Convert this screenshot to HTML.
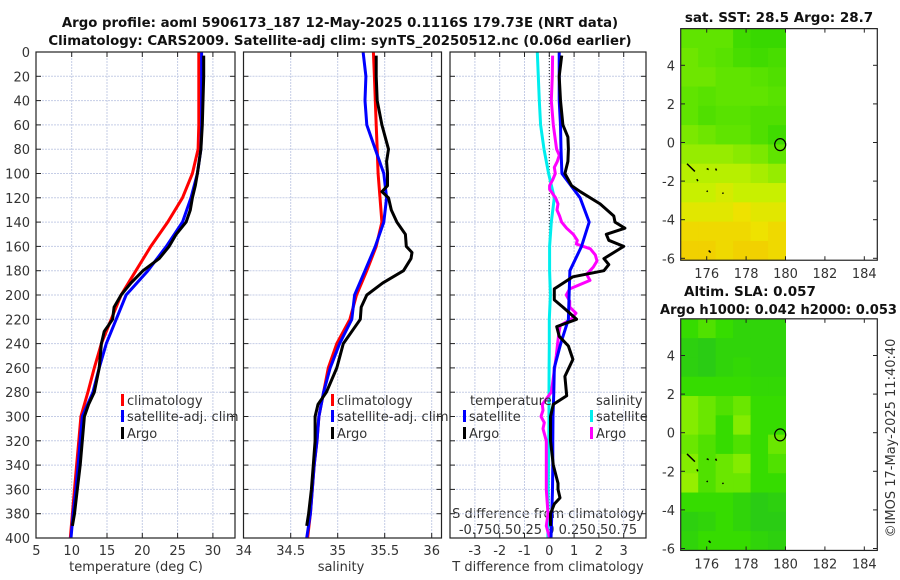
<!DOCTYPE html>
<html><head><meta charset="utf-8"><style>
html,body{margin:0;padding:0;background:#fff;}
svg{display:block;font-family:"DejaVu Sans","Liberation Sans",sans-serif;}
.t{font-size:13px;fill:#333;}
.b{font-size:13.5px;font-weight:bold;fill:#111;}
</style></head><body>
<svg id="c" width="900" height="580" viewBox="0 0 900 580" xmlns="http://www.w3.org/2000/svg">
<text class="b" x="340" y="27" text-anchor="middle" style="font-size:13.3px">Argo profile: aoml 5906173_187 12-May-2025 0.1116S 179.73E (NRT data)</text>
<text class="b" x="340" y="45" text-anchor="middle" style="font-size:13.3px">Climatology: CARS2009. Satellite-adj clim: synTS_20250512.nc (0.06d earlier)</text>
<text class="t" x="136" y="571" text-anchor="middle">temperature (deg C)</text>
<text class="t" x="341" y="571" text-anchor="middle">salinity</text>
<text class="t" x="548" y="571" text-anchor="middle">T difference from climatology</text>
<text class="t" x="548" y="518" text-anchor="middle">S difference from climatology</text>
<text class="t" x="548" y="534" text-anchor="middle">-0.750.50.25 0 0.250.50.75</text>
<text class="b" x="779" y="22" text-anchor="middle">sat. SST: 28.5 Argo: 28.7</text>
<text class="b" x="684" y="296">Altim. SLA: 0.057</text>
<text class="b" x="660" y="314" textLength="237" lengthAdjust="spacingAndGlyphs">Argo h1000: 0.042 h2000: 0.053</text>
<text class="t" x="0" y="0" transform="translate(895,438) rotate(-90)" text-anchor="middle">©IMOS 17-May-2025 11:40:40</text>
</svg>
<script>
// ---- data ----
const depT = [0,20,40,60,80,100,120,140,160,180,200,220,240,260,280,300,320,340,360,380,400];
const climT = [28.0,28.0,28.0,28.0,27.9,27.1,25.7,23.6,21.2,19.1,17.0,15.6,14.2,13.2,12.3,11.3,11.0,10.7,10.4,10.1,9.8];
const satT = [28.4,28.4,28.4,28.4,28.3,27.8,26.9,25.7,23.4,20.8,17.7,16.3,14.9,13.9,13.0,11.5,11.2,10.9,10.6,10.2,9.9];
const depA = [3,20,40,60,80,100,110,120,130,140,150,160,170,180,190,200,210,220,230,240,260,280,290,300,320,340,360,380,390];
const argoT = [28.7,28.7,28.6,28.5,28.3,27.8,27.5,27.1,26.8,26.2,24.8,23.8,22.4,20.1,18.4,17.0,16.0,15.8,14.6,14.2,13.9,13.2,12.4,11.8,11.5,11.2,10.8,10.4,10.1];
const climS = [35.38,35.39,35.40,35.41,35.42,35.43,35.45,35.47,35.41,35.31,35.20,35.13,34.99,34.90,34.85,34.80,34.78,34.75,34.73,34.71,34.68];
const satS = [35.27,35.30,35.29,35.31,35.40,35.49,35.52,35.49,35.40,35.29,35.18,35.15,35.02,34.92,34.85,34.80,34.78,34.75,34.73,34.71,34.67];
const depAS = [3,20,40,60,80,90,100,110,115,120,130,140,150,160,165,170,180,190,200,210,220,240,260,280,290,300,320,340,360,380,390];
const argoS = [35.41,35.41,35.42,35.47,35.54,35.52,35.53,35.53,35.47,35.54,35.57,35.63,35.72,35.73,35.79,35.78,35.70,35.48,35.31,35.25,35.24,35.06,34.99,34.88,34.79,34.76,34.76,34.74,34.72,34.69,34.67];
const depDT = [3,20,40,60,70,80,90,100,110,115,125,135,140,145,150,155,160,165,170,175,180,185,195,204,210,220,226,234,242,253,267,283,290,300,320,340,355,360,367,372,380,390];
const argoDT = [0.5,0.4,0.45,0.55,0.75,0.77,0.75,0.63,0.9,1.25,2.05,2.6,2.65,3.05,2.3,2.4,3.0,2.6,2.2,2.4,2.2,0.95,0.2,0.2,0.55,1.1,0.3,0.4,0.77,0.95,0.63,0.7,0.16,0.05,0.05,0.16,0.35,0.35,0.43,0.2,0.05,0.05];
const satDT = [0.4,0.4,0.4,0.45,0.47,0.51,1.24,1.61,1.3,0.83,0.8,0.77,0.46,0.2,0.18,0.15,0.14,0.14,0.13,0.1,0.07];
const satDS = [-0.113,-0.104,-0.094,-0.082,-0.05,-0.007,0.047,0.019,0.003,0.003,0.01,0,0,-0.002,-0.003,-0.003,-0.005,-0.008,-0.01,-0.012,-0.013];
const depDS = [3,20,40,60,80,85,90,95,100,105,110,113,118,120,125,130,135,140,145,150,155,158,162,167,172,177,183,188,195,200,205,210,215,220,225,230,240,250,260,270,280,290,295,300,305,310,320,340,360,380,390,400];
const argoDS = [0.031,0.028,0.019,0.038,0.069,0.094,0.075,0.047,0.057,0.033,0.003,0.003,0.042,0.059,0.082,0.073,0.097,0.116,0.163,0.226,0.264,0.255,0.387,0.434,0.45,0.415,0.352,0.384,0.192,0.16,0.192,0.192,0.252,0.205,0.104,0.092,0.078,0.066,0.05,0.035,0.019,-0.066,-0.059,-0.078,-0.047,-0.059,-0.028,-0.028,-0.028,-0.012,-0.028,0.003];
const depthTicks = [0,20,40,60,80,100,120,140,160,180,200,220,240,260,280,300,320,340,360,380,400];
const tTicks = [5,10,15,20,25,30];
const sTicks = [34,34.5,35,35.5,36];
const dTicks = [-3,-2,-1,0,1,2,3];
const latTicks = [4,2,0,-2,-4,-6];
const lonTicks = [176,178,180,182,184];
const sstGrid = [
 [0.3,0.3,0.3,0.1,0.05,0.05],[0.35,0.3,0.25,0.15,0.1,0.15],[0.35,0.35,0.3,0.3,0.25,0.2],
 [0.3,0.25,0.3,0.3,0.3,0.25],[0.3,0.2,0.25,0.25,0.2,0.2],[0.4,0.35,0.3,0.3,0.2,0.1],
 [0.5,0.5,0.5,0.45,0.4,0.3],[0.6,0.6,0.6,0.6,0.55,0.5],[0.65,0.65,0.7,0.65,0.65,0.65],
 [0.75,0.75,0.75,0.8,0.75,0.75],[0.85,0.85,0.85,0.85,0.8,0.85],[0.9,0.9,0.85,0.9,0.9,0.85]];
const slaGrid = [
 [0.3,0.4,0.3,0.2,0.2,0.2],[0.15,0.1,0.2,0.2,0.2,0.2],[0.15,0.1,0.2,0.25,0.2,0.2],
 [0.3,0.3,0.3,0.3,0.25,0.25],[0.6,0.5,0.4,0.5,0.3,0.3],[0.6,0.5,0.3,0.6,0.3,0.3],
 [0.5,0.4,0.3,0.4,0.3,0.5],[0.6,0.4,0.5,0.6,0.3,0.4],[0.7,0.4,0.5,0.5,0.3,0.3],
 [0.3,0.3,0.3,0.2,0.1,0.15],[0.15,0.2,0.3,0.2,0.1,0.1],[0.2,0.3,0.3,0.3,0.2,0.15]];
const floatLon = 179.73, floatLat = -0.1116;

// ---- scales ----
const svg = document.getElementById('c');
const NS = 'http://www.w3.org/2000/svg';
const TOP = 52, BOT = 538;
const Y = d => TOP + d*1.215;
const X1 = t => 36.4 + (t-5)*7.06;
const X2 = s => 243.7 + (s-34)*94;
const X3T = t => 549.3 + t*24.8;
const X3S = s => 549.3 + s*106;
const panels = [{x0:36,x1:235,n:'temperature'},{x0:243.5,x1:441.5,n:'salinity'},{x0:450,x1:646,n:'difference'}];

function el(tag, attrs, name) {
  const e = document.createElementNS(NS, tag);
  for (const k in attrs) e.setAttribute(k, attrs[k]);
  
  
  svg.appendChild(e);
  return e;
}
function txt(x, y, s, anchor, name, cls) {
  const e = el('text', {x:x, y:y, 'text-anchor':anchor, class:cls||'t'}, name);
  e.textContent = s;
  return e;
}
function line(xs, ys, color, w, name) {
  let d = '';
  for (let i = 0; i < xs.length; i++) d += (i ? 'L' : 'M') + xs[i].toFixed(1) + ' ' + ys[i].toFixed(1);
  el('path', {d:d, fill:'none', stroke:color, 'stroke-width':w, 'stroke-linejoin':'round'}, name);
}

// ---- panel grids & frames ----
const gx = [tTicks.slice(1).map(X1), sTicks.slice(1).map(X2), dTicks.map(X3T)];
panels.forEach((p, i) => {
  depthTicks.forEach(d => {
    el('line', {x1:p.x0, x2:p.x1, y1:Y(d), y2:Y(d), stroke:'#c5cde6', 'stroke-width':1, 'stroke-dasharray':'2,1'}, p.n+'-h-gridline');
    el('line', {x1:p.x0, x2:p.x0+5, y1:Y(d), y2:Y(d), stroke:'#222', 'stroke-width':1}, p.n+'-y-tick');
    el('line', {x1:p.x1-5, x2:p.x1, y1:Y(d), y2:Y(d), stroke:'#222', 'stroke-width':1}, p.n+'-y-tick-right');
  });
  gx[i].forEach(x => {
    el('line', {x1:x, x2:x, y1:TOP, y2:BOT, stroke:'#c5cde6', 'stroke-width':1, 'stroke-dasharray':'2,1'}, p.n+'-v-gridline');
    el('line', {x1:x, x2:x, y1:TOP, y2:TOP+5, stroke:'#222', 'stroke-width':1}, p.n+'-x-tick-top');
    el('line', {x1:x, x2:x, y1:BOT-5, y2:BOT, stroke:'#222', 'stroke-width':1}, p.n+'-x-tick');
  });
});
depthTicks.forEach(d => txt(30, Y(d)+5, String(d), 'end', 'depth-tick-label'));
tTicks.forEach(t => txt(X1(t), 555, String(t), 'middle', 'temperature-tick-label'));
sTicks.forEach(s => txt(X2(s), 555, String(s), 'middle', 'salinity-tick-label'));
dTicks.forEach(t => txt(X3T(t), 555, String(t), 'middle', 't-diff-tick-label'));
el('line', {x1:X3T(0), x2:X3T(0), y1:TOP, y2:BOT, stroke:'#222', 'stroke-width':1, 'stroke-dasharray':'1,2'}, 'zero-reference-line');

// ---- series ----
line(climT.map(X1), depT.map(Y), '#ff0000', 3, 'climatology-temperature-line');
line(satT.map(X1), depT.map(Y), '#0000ff', 3, 'satellite-temperature-line');
line(argoT.map(X1), depA.map(Y), '#000000', 3, 'argo-temperature-line');
line(climS.map(X2), depT.map(Y), '#ff0000', 3, 'climatology-salinity-line');
line(satS.map(X2), depT.map(Y), '#0000ff', 3, 'satellite-salinity-line');
line(argoS.map(X2), depAS.map(Y), '#000000', 3, 'argo-salinity-line');
line(satDS.map(X3S), depT.map(Y), '#00eeee', 3, 'satellite-s-diff-line');
line(argoDS.map(X3S), depDS.map(Y), '#ff00ff', 3, 'argo-s-diff-line');
line(satDT.map(X3T), depT.map(Y), '#0000ff', 3, 'satellite-t-diff-line');
line(argoDT.map(X3T), depDT.map(Y), '#000000', 3, 'argo-t-diff-line');

panels.forEach(p => el('rect', {x:p.x0, y:TOP, width:p.x1-p.x0, height:BOT-TOP, fill:'none', stroke:'#222', 'stroke-width':1.2}, p.n+'-panel-frame'));

// ---- legends ----
function legend(x, y, color, label, name) {
  el('rect', {x:x, y:y-11, width:3, height:12, fill:color}, name+'-marker');
  txt(x+6, y, label, 'start', name+'-label');
}
legend(121, 405, '#ff0000', 'climatology', 'legend-climatology-t');
legend(121, 421, '#0000ff', 'satellite-adj. clim', 'legend-satellite-t');
legend(121, 438, '#000000', 'Argo', 'legend-argo-t');
legend(331, 405, '#ff0000', 'climatology', 'legend-climatology-s');
legend(331, 421, '#0000ff', 'satellite-adj. clim', 'legend-satellite-s');
legend(331, 438, '#000000', 'Argo', 'legend-argo-s');
txt(470, 405, 'temperature', 'start', 'legend-temperature-heading');
legend(463, 421, '#0000ff', 'satellite', 'legend-t-satellite');
legend(463, 438, '#000000', 'Argo', 'legend-t-argo');
txt(596, 405, 'salinity', 'start', 'legend-salinity-heading');
legend(590, 421, '#00eeee', 'satellite', 'legend-s-satellite');
legend(590, 438, '#ff00ff', 'Argo', 'legend-s-argo');

// ---- maps ----
function lerpRamp(ramp, v) {
  for (let i = 1; i < ramp.length; i++) {
    if (v <= ramp[i][0]) {
      const a = ramp[i-1], b = ramp[i], f = (v-a[0])/(b[0]-a[0]);
      const c = [0,1,2].map(k => Math.round(a[1][k]+(b[1][k]-a[1][k])*f));
      return 'rgb('+c.join(',')+')';
    }
  }
  const l = ramp[ramp.length-1][1];
  return 'rgb('+l.join(',')+')';
}
const sstRamp = [[0,[48,214,0]],[0.3,[96,228,0]],[0.5,[150,236,0]],[0.65,[200,240,0]],[0.8,[238,226,0]],[0.95,[242,200,0]]];
const slaRamp = [[0,[36,196,30]],[0.3,[54,220,0]],[0.6,[132,236,0]],[0.75,[158,240,0]]];
function drawMap(y0, grid, ramp, name) {
  const LX = lon => 680.7 + (lon-174.68)*19.7;
  const LY = lat => y0 + lat*(-19.3);
  const top = LY(5.9), bot = LY(-6.1);
  const cw = (LX(180)-LX(174.68))/grid[0].length, ch = (bot-top)/grid.length;
  grid.forEach((row, r) => row.forEach((v, c) => {
    el('rect', {x:LX(174.68)+c*cw, y:top+r*ch, width:cw+0.5, height:ch+0.5, fill:lerpRamp(ramp, v)}, name+'-cell');
  }));
  [[175.0,LY(-1.1),175.4,LY(-1.5)],[175.5,LY(-1.9),175.55,LY(-2.0)],[176.0,LY(-1.35),176.1,LY(-1.4)],[176.45,LY(-1.35),176.5,LY(-1.45)],[176.0,LY(-2.5),176.05,LY(-2.55)],[176.8,LY(-2.6),176.85,LY(-2.65)],[176.1,LY(-5.6),176.2,LY(-5.7)]].forEach(s =>
    el('line', {x1:LX(s[0]), y1:s[1], x2:LX(s[2]), y2:s[3], stroke:'#000', 'stroke-width':1.5}, name+'-coastline'));
  el('ellipse', {cx:LX(floatLon), cy:LY(floatLat), rx:5.5, ry:6, fill:'none', stroke:'#000', 'stroke-width':1.2}, name+'-float-marker');
  latTicks.forEach(l => {
    el('line', {x1:680.7, x2:685, y1:LY(l), y2:LY(l), stroke:'#222'}, name+'-lat-tick');
    el('line', {x1:873, x2:877.3, y1:LY(l), y2:LY(l), stroke:'#222'}, name+'-lat-tick-right');
    txt(675, LY(l)+5, String(l), 'end', name+'-lat-label');
  });
  lonTicks.forEach(l => {
    el('line', {x1:LX(l), x2:LX(l), y1:bot-4, y2:bot, stroke:'#222'}, name+'-lon-tick');
    el('line', {x1:LX(l), x2:LX(l), y1:top, y2:top+4, stroke:'#222'}, name+'-lon-tick-top');
    txt(LX(l), bot+18, String(l), 'middle', name+'-lon-label');
  });
  el('rect', {x:680.7, y:top, width:196.6, height:bot-top, fill:'none', stroke:'#222', 'stroke-width':1.2}, name+'-frame');
}
drawMap(142.5, sstGrid, sstRamp, 'sst-map');
drawMap(432.7, slaGrid, slaRamp, 'sla-map');
</script>
</body></html>
